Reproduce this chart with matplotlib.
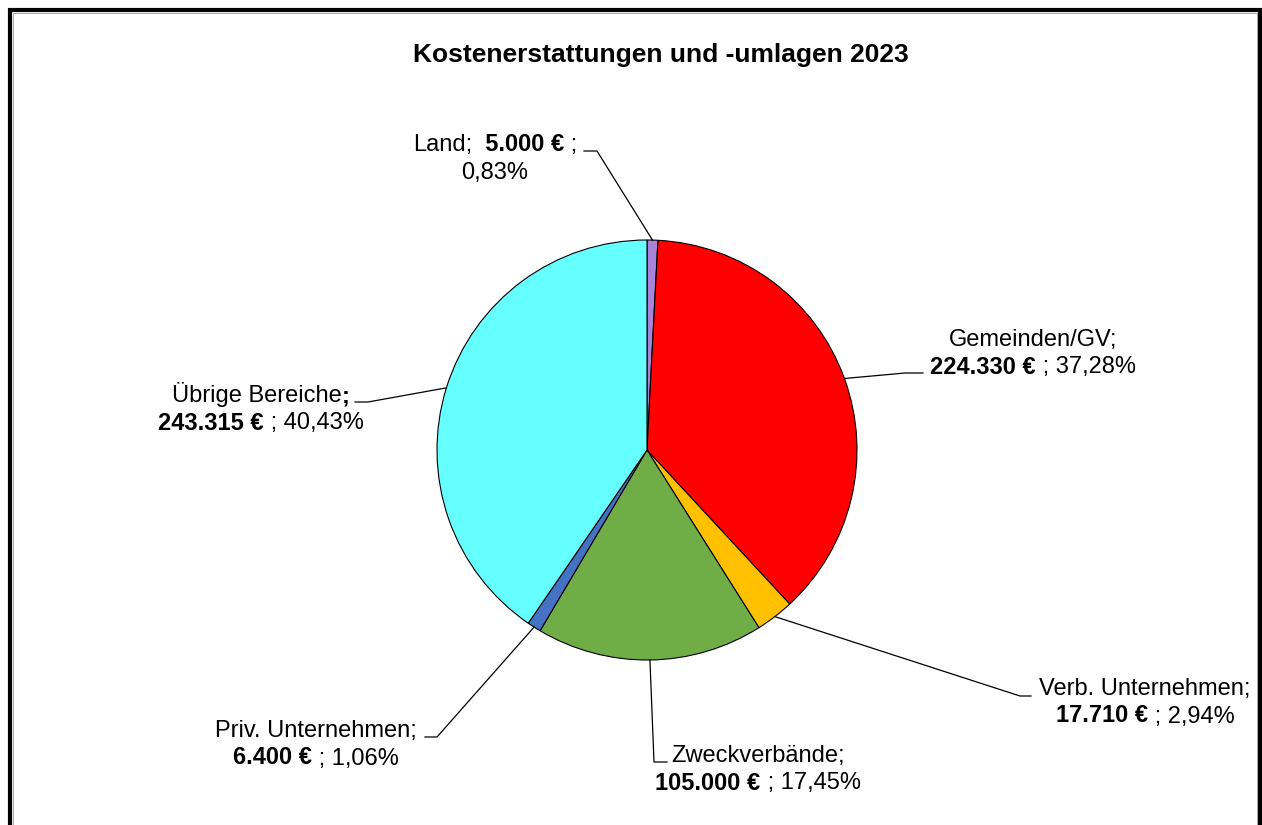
import numpy as np
import matplotlib
matplotlib.use("Agg")
import matplotlib.pyplot as plt

plt.rcParams['font.family'] = ['Liberation Sans', 'DejaVu Sans']

# ---- data ----
categories = ["Land", "Gemeinden/GV", "Verb. Unternehmen", "Zweckverbände",
              "Priv. Unternehmen", "Übrige Bereiche"]
values = [5000, 224330, 17710, 105000, 6400, 243315]
value_labels = ["5.000 €", "224.330 €", "17.710 €", "105.000 €", "6.400 €", "243.315 €"]
pct_labels = ["0,83%", "37,28%", "2,94%", "17,45%", "1,06%", "40,43%"]
colors = ["#A982DA", "#FF0000", "#FFC000", "#70AD47", "#4472C4", "#66FFFF"]
title = "Kostenerstattungen und -umlagen 2023"

W, H = 1262, 825
fig = plt.figure(figsize=(W / 100, H / 100), dpi=100)
fig.patch.set_facecolor("white")

# pie axes: centre (647,450) px, radius 210 px
cx, cy, R = 647, 450, 210
ax = fig.add_axes([(cx - R) / W, (H - cy - R) / H, 2 * R / W, 2 * R / H])
wedges, _ = ax.pie(values, colors=colors, startangle=90, counterclock=False,
                   wedgeprops=dict(edgecolor="black", linewidth=0.8))
ax.set_xlim(-1, 1)
ax.set_ylim(-1, 1)
ax.set_aspect("equal")

# overlay axes in pixel coordinates
ov = fig.add_axes([0, 0, 1, 1], zorder=5)
ov.set_xlim(0, W)
ov.set_ylim(H, 0)
ov.axis("off")

# frame
ov.plot([9.5, 9.5, 1260, 1260], [840, 9.5, 9.5, 840], color="black", lw=3.0,
        solid_joinstyle="miter", clip_on=False)
ov.plot([12.8, 12.8, 1256.5], [840, 12.5, 12.5], color="#999999", lw=0.6, clip_on=False)
ov.plot([1256.8, 1256.8], [12.5, 840], color="#999999", lw=0.6, clip_on=False)

ov.text(661, 62, title, fontsize=19, fontweight="bold", ha="center", va="baseline")

renderer = fig.canvas.get_renderer()
FS = 17


def draw_line(parts, xc, yb):
    texts = []
    widths = []
    for s, bold in parts:
        t = ov.text(0, yb, s, fontsize=FS, fontweight="bold" if bold else "normal",
                    ha="left", va="baseline")
        widths.append(t.get_window_extent(renderer).width)
        texts.append(t)
    total = sum(widths)
    x = xc - total / 2
    for t, w in zip(texts, widths):
        t.set_x(x)
        x += w


def anchor(i):
    w = wedges[i]
    th = np.deg2rad((w.theta1 + w.theta2) / 2)
    p = ax.transData.transform((np.cos(th), np.sin(th)))
    return ov.transData.inverted().transform(p)


# label layout: centre x, first baseline y, leader path (knee, end)
layout = {
    0: dict(xc=495, y=151, knee=(597, 151), end=(584, 151)),
    1: dict(xc=1033, y=346, knee=(905, 373), end=(923, 373)),
    2: dict(xc=1145, y=695, knee=(1020, 696), end=(1031, 696)),
    3: dict(xc=758, y=762, knee=(654, 762), end=(667, 762)),
    4: dict(xc=316, y=737, knee=(437, 737), end=(425, 737)),
    5: dict(xc=261, y=402, knee=(368, 402), end=(355, 402)),
}
LS = 27.5

for i, name in enumerate(categories):
    L = layout[i]
    if i == 0:
        draw_line([(name + ";", False), ("  " + value_labels[i], True), (" ;", False)], L["xc"], L["y"])
        draw_line([(pct_labels[i], False)], L["xc"], L["y"] + LS)
    else:
        if i == 5:
            draw_line([(name, False), (";", True)], L["xc"], L["y"])
        else:
            draw_line([(name + ";", False)], L["xc"], L["y"])
        draw_line([(value_labels[i], True), (" ; " + pct_labels[i], False)], L["xc"], L["y"] + LS)
    a = anchor(i)
    ov.plot([a[0], L["knee"][0], L["end"][0]], [a[1], L["knee"][1], L["end"][1]],
            color="black", lw=0.9)

fig.savefig("out.png", dpi=100)
